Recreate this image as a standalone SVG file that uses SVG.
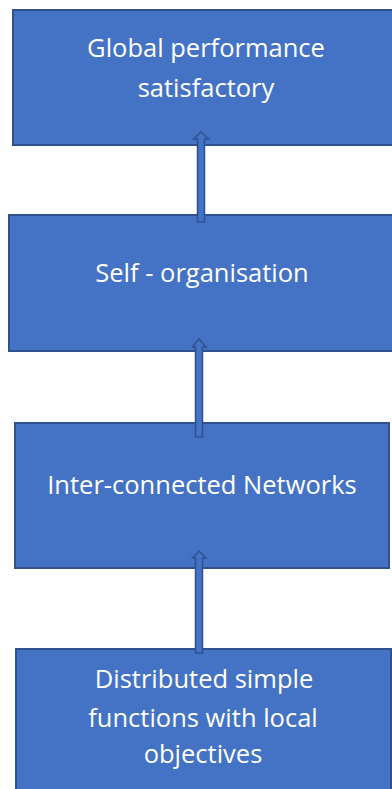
<svg xmlns="http://www.w3.org/2000/svg" width="392" height="789" viewBox="0 0 392 789">
<style>
.box{fill:#4472C4;stroke:#2F528F;stroke-width:2}
.arr{fill:#4472C4;stroke:#2F528F;stroke-width:1.5;stroke-linejoin:miter}
.t{fill:#FFFFFF;font-family:"Open Sans","Liberation Sans",sans-serif;font-size:25.5px;text-anchor:middle}
</style>
<rect width="392" height="789" fill="#FFFFFF"/>
<g id="node-global">
<rect class="box" x="13" y="10" width="392" height="135"/>
<text class="t" x="206" y="57">Global performance</text>
<text class="t" x="206" y="97">satisfactory</text>
</g>
<g id="node-self">
<rect class="box" x="9" y="215" width="392" height="136"/>
<text class="t" x="202" y="282">Self - organisation</text>
</g>
<g id="node-inter">
<rect class="box" x="15" y="423" width="374" height="145"/>
<text class="t" x="202" y="494">Inter-connected Networks</text>
</g>
<g id="node-distributed">
<rect class="box" x="16" y="649" width="375" height="150"/>
<text class="t" x="204" y="688">Distributed simple</text>
<text class="t" x="203" y="727">functions with local</text>
<text class="t" x="203" y="763">objectives</text>
</g>
<g id="connectors">
<polygon class="arr" points="201,132 208.5,139 204.5,139 204.5,222 197.5,222 197.5,139 193.5,139"/>
<polygon class="arr" points="199,339 206,347 202.5,347 202.5,437 195.5,437 195.5,347 192.5,347"/>
<polygon class="arr" points="199,551 206,558 202.5,558 202.5,653 195.5,653 195.5,558 192.5,558"/>
</g>
</svg>
